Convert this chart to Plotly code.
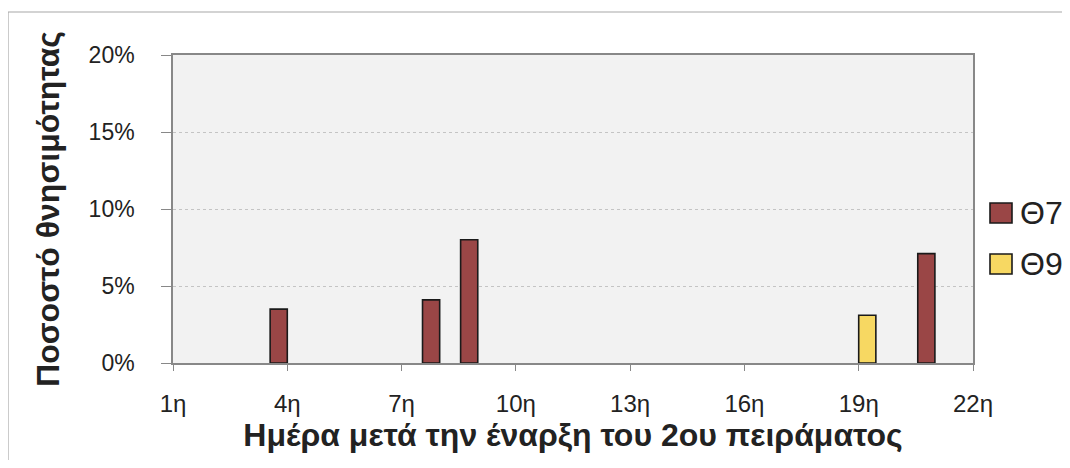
import plotly.graph_objects as go

# ---- data ----
days = [f"{d}η" for d in range(1, 23)]
theta7 = [None, None, None, 3.5, None, None, None, 4.1, 8.0, None, None,
          None, None, None, None, None, None, None, None, None, 7.1, None]
theta9 = [None, None, None, None, None, None, None, None, None, None, None,
          None, None, None, None, None, None, None, 3.1, None, None, None]
series_names = ["Θ7", "Θ9"]
x_tick_labels = ["1η", "4η", "7η", "10η", "13η", "16η", "19η", "22η"]
y_ticks = [0, 5, 10, 15, 20]
y_tick_labels = ["0%", "5%", "10%", "15%", "20%"]

colors = ["#9A4646", "#F7D862"]
FONT = "Liberation Sans, Arial, sans-serif"

OFF = 8                      # page body margin of the browser
W, H = 1070 - OFF, 468 - 2 * OFF
REF_L, REF_T = 173, 55       # plot area corner as seen in the screenshot
PW, PH = 800, 308
L, T = REF_L - OFF, REF_T - OFF
R, B = W - L - PW, H - T - PH

def px_x(px):
    return (px - REF_L) / PW

def px_y(py):
    return (REF_T + PH - py) / PH

fig = go.Figure()
for name, vals, col in zip(series_names, [theta7, theta9], colors):
    fig.add_trace(go.Bar(
        x=days, y=vals, name=name,
        marker=dict(color=col, line=dict(color="#1a1a1a", width=1.6)),
        showlegend=False,
    ))

shapes = []
annotations = []
# outer chart border (only top and left edges are visible in the scan)
border = dict(color="#A8A8A8", width=1.2)
shapes.append(dict(type="line", xref="paper", yref="paper",
                   x0=px_x(8), x1=px_x(1075), y0=px_y(12), y1=px_y(12), line=border))
shapes.append(dict(type="line", xref="paper", yref="paper",
                   x0=px_x(8), x1=px_x(8), y0=px_y(12), y1=px_y(470), line=border))
# legend drawn as squares + labels
leg_y = [213, 264]
for name, col, yy in zip(series_names, colors, leg_y):
    shapes.append(dict(type="rect", xref="paper", yref="paper",
                       x0=px_x(990), x1=px_x(1012), y0=px_y(yy + 10), y1=px_y(yy - 10),
                       fillcolor=col, line=dict(color="#1a1a1a", width=1.6)))
    annotations.append(dict(text=name, xref="paper", yref="paper",
                            x=px_x(1018), y=px_y(yy), xanchor="left", yanchor="middle",
                            showarrow=False, font=dict(family=FONT, size=32, color="#222")))

fig.update_layout(
    width=W, height=H,
    margin=dict(l=L, r=R, t=T, b=B),
    paper_bgcolor="white",
    plot_bgcolor="#F2F2F2",
    barmode="group",
    bargap=0.1,
    bargroupgap=0,
    shapes=shapes,
    annotations=annotations,
    font=dict(family=FONT, color="#222"),
    xaxis=dict(
        type="category",
        range=[0, 21],
        tickmode="array",
        tickvals=x_tick_labels,
        ticktext=x_tick_labels,
        ticks="outside", ticklen=6, tickcolor="#888", tickwidth=1,
        ticklabelstandoff=12,
        showline=True, linecolor="#888", linewidth=1.5, mirror=True,
        showgrid=False,
        tickfont=dict(family=FONT, size=24, color="#222"),
        title=dict(text="<b>Ημέρα μετά την έναρξη του 2ου πειράματος</b>",
                   font=dict(family=FONT, size=32, color="#222"), standoff=1),
    ),
    yaxis=dict(
        range=[0, 20],
        tickmode="array",
        tickvals=y_ticks,
        ticktext=y_tick_labels,
        ticks="outside", ticklen=10, tickcolor="#888", tickwidth=1,
        ticklabelstandoff=22,
        showline=True, linecolor="#888", linewidth=1.5, mirror=True,
        showgrid=True, gridcolor="#C4C4C4", griddash="dot", gridwidth=1,
        zeroline=False,
        tickfont=dict(family=FONT, size=23, color="#222"),
        title=dict(text="<b>Ποσοστό θνησιμότητας</b>",
                   font=dict(family=FONT, size=32, color="#222"), standoff=19),
    ),
)

fig.write_html("out.html")
